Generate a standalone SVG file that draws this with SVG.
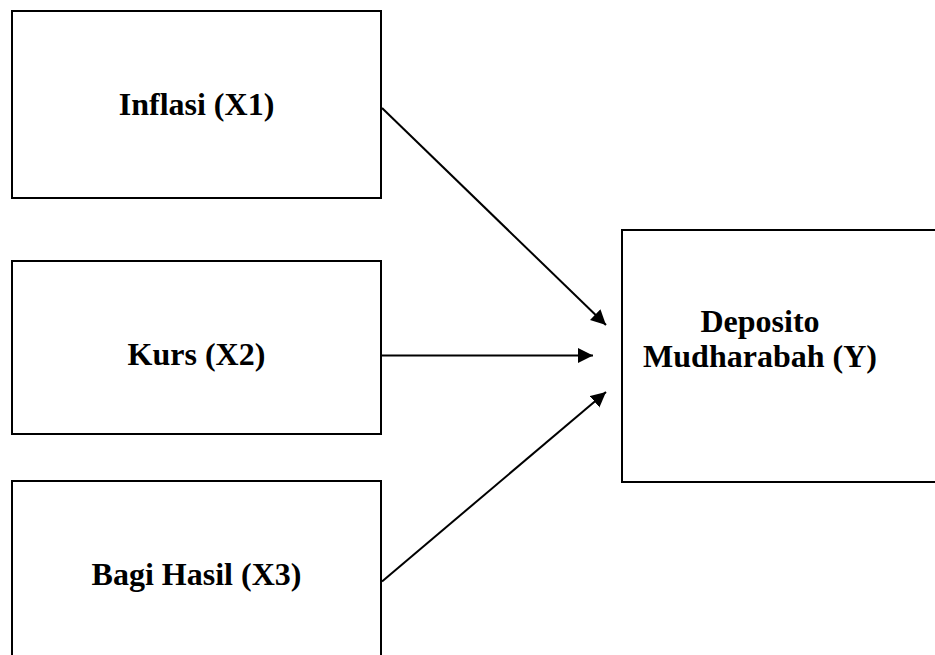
<svg xmlns="http://www.w3.org/2000/svg" width="935" height="655" viewBox="0 0 935 655">
<style>
.box{fill:#fff;stroke:#000;stroke-width:2}
.lbl{font-family:"Liberation Serif","Times New Roman",serif;font-weight:bold;font-size:32px;fill:#000;text-anchor:middle}
.con{stroke:#000;stroke-width:2;fill:none}
</style>
<defs>
<marker id="ah" markerUnits="userSpaceOnUse" markerWidth="16" markerHeight="16" refX="15" refY="7.5" orient="auto">
<path d="M0,0 L15,7.5 L0,15 z" fill="#000"/>
</marker>
</defs>
<rect width="935" height="655" fill="#fff"/>
<g id="inflasi">
<rect class="box" x="12" y="11" width="369" height="187"/>
<text class="lbl" x="196.5" y="115">Inflasi (X1)</text>
</g>
<g id="kurs">
<rect class="box" x="12" y="261" width="369" height="173"/>
<text class="lbl" x="196.5" y="365">Kurs (X2)</text>
</g>
<g id="bagihasil">
<rect class="box" x="12" y="481" width="369" height="190"/>
<text class="lbl" x="196.5" y="585">Bagi Hasil (X3)</text>
</g>
<g id="deposito">
<rect class="box" x="622" y="230" width="330" height="252"/>
<text class="lbl" x="760" y="332">Deposito</text>
<text class="lbl" x="760" y="367">Mudharabah (Y)</text>
</g>
<g id="connectors">
<line class="con" x1="382" y1="108" x2="606" y2="325" marker-end="url(#ah)"/>
<line class="con" x1="382" y1="355.5" x2="593" y2="355.5" marker-end="url(#ah)"/>
<line class="con" x1="382" y1="581.5" x2="606" y2="392" marker-end="url(#ah)"/>
</g>
</svg>
